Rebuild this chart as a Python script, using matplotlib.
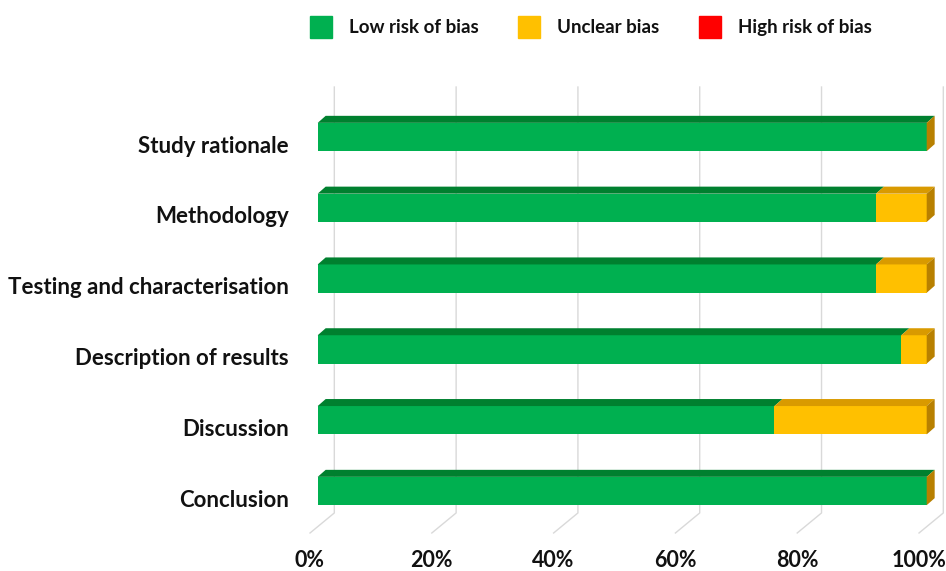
import numpy as np
import matplotlib.pyplot as plt
from matplotlib.patches import Polygon
from matplotlib.lines import Line2D
from matplotlib.transforms import ScaledTranslation

categories = ['Study rationale', 'Methodology', 'Testing and characterisation',
              'Description of results', 'Discussion', 'Conclusion']
low = np.array([100, 91.67, 91.67, 95.83, 75, 100])
unclear = np.array([0, 8.33, 8.33, 4.17, 25, 0])
high = np.array([0, 0, 0, 0, 0, 0])
ticks = [0, 20, 40, 60, 80, 100]
tick_labels = ['0%', '20%', '40%', '60%', '80%', '100%']
series = ['Low risk of bias', 'Unclear bias', 'High risk of bias']

green, green_top = '#00B050', '#00802F'
yellow, yellow_top, yellow_side = '#FFC000', '#D99A00', '#B88000'
red = '#FF0000'

plt.rcParams['font.family'] = ['Lato', 'DejaVu Sans']
fig = plt.figure(figsize=(9.46, 5.71), dpi=100)
ax = fig.add_axes([300/946, 31/571, 646/946, 480/571])
ax.set_xlim(-2.906, 103.17)
ax.set_ylim(5.692, -1.0876)
for s in ax.spines.values():
    s.set_visible(False)

# depth offsets of the 3D look (data units)
bdx, bdy = 1.31, -0.099
wall_dx = 2.73
floor_dx = -1.26

# back wall gridlines + floor diagonals
for v in ticks:
    ax.plot([v + wall_dx, v + wall_dx, v + floor_dx], [-0.706, 5.31, 5.593],
            color='#D9D9D9', lw=1, zorder=0)

h = 0.4
y = np.arange(len(categories))
ax.barh(y, low, height=h, color=green, zorder=2)
ax.barh(y, unclear, left=low, height=h, color=yellow, zorder=2)
ax.barh(y, high, left=low + unclear, height=h, color=red, zorder=2)

tops = [(0, low, green_top), (low, low + unclear, yellow_top),
        (low + unclear, low + unclear + high, '#B00000')]
for i in range(len(categories)):
    yt = y[i] - h / 2
    for a, b, c in tops:
        a = a if np.isscalar(a) else a[i]
        b = b[i]
        if b - a <= 0:
            continue
        ax.add_patch(Polygon([(a, yt), (a + bdx, yt + bdy), (b + bdx, yt + bdy), (b, yt)],
                             closed=True, color=c, zorder=2, lw=0))
    e = low[i] + unclear[i] + high[i]
    ax.add_patch(Polygon([(e, yt), (e + bdx, yt + bdy), (e + bdx, yt + h + bdy), (e, yt + h)],
                         closed=True, color=yellow_side, zorder=2, lw=0))

ax.set_yticks(y)
ax.set_yticklabels(categories, fontsize=16, fontweight='bold', color='#111111')
ax.set_xticks(ticks)
ax.set_xticklabels(tick_labels, fontsize=15.5, fontweight='bold', color='#111111')
ax.tick_params(length=0)
ax.tick_params(axis='y', pad=8)
ax.tick_params(axis='x', pad=7)
for lab in ax.get_yticklabels():
    lab.set_transform(lab.get_transform() + ScaledTranslation(0, -0.07, fig.dpi_scale_trans))
for lab in ax.get_xticklabels():
    lab.set_transform(lab.get_transform() + ScaledTranslation(-0.08, 0, fig.dpi_scale_trans))

handles = [Line2D([], [], marker='s', ls='', markersize=16, color=c) for c in (green, yellow, red)]
fig.legend(handles, series, loc='center', bbox_to_anchor=(0.6205, 0.951), ncol=3,
           frameon=False, prop={'size': 13.5, 'weight': 'bold'}, handletextpad=0.5,
           columnspacing=1.7, labelcolor='#111111')

fig.savefig('out.png', dpi=100)
